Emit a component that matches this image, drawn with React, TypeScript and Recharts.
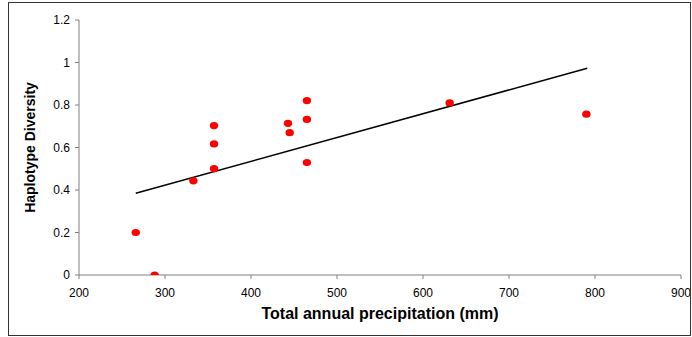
import React from 'react';
import { ScatterChart, Scatter, XAxis, YAxis, Label } from 'recharts';

const precipitation = [266, 288, 333, 357, 357, 357, 443, 445, 465, 465, 465, 631, 790];
const haplotypeDiversity = [0.2, 0.0, 0.443, 0.703, 0.617, 0.501, 0.714, 0.67, 0.821, 0.732, 0.529, 0.81, 0.757];
const trendX = [266, 791];
const trendY = [0.385, 0.973];
const xTicks = [200, 300, 400, 500, 600, 700, 800, 900];
const yTicks = [0, 0.2, 0.4, 0.6, 0.8, 1, 1.2];

const points = precipitation.map((x, i) => ({ x, y: haplotypeDiversity[i] }));
const trend = trendX.map((x, i) => ({ x, y: trendY[i] }));

const Dot = (props: any) => {
  const { cx, cy } = props;
  if (cx == null || cy == null) return null;
  return <ellipse cx={cx} cy={cy} rx={4.2} ry={3.6} fill="#ff0000" />;
};

const NoDot = () => <g />;

const tickStyle = { fontFamily: 'Liberation Sans, Arial, sans-serif', fontSize: 12, fill: '#000' };

export default function App() {
  return (
    <div
      style={{
        position: 'absolute',
        left: 8,
        top: 2,
        width: 681,
        height: 332,
        border: '1px solid #333',
        background: '#fff',
      }}
    >
      <ScatterChart width={681} height={332} margin={{ top: 17, right: 9, left: 0, bottom: 0 }}>
        <XAxis
          type="number"
          dataKey="x"
          domain={[200, 900]}
          ticks={xTicks}
          interval={0}
          allowDataOverflow
          height={60}
          tickSize={4}
          tickMargin={9}
          stroke="#808080"
          tick={tickStyle}
        >
          <Label
            value="Total annual precipitation (mm)"
            position="insideBottom"
            offset={16}
            style={{ fontFamily: 'Liberation Sans, Arial, sans-serif', fontSize: 16, fontWeight: 'bold', fill: '#000' }}
          />
        </XAxis>
        <YAxis
          type="number"
          dataKey="y"
          domain={[0, 1.2]}
          ticks={yTicks}
          interval={0}
          allowDataOverflow
          width={70}
          tickSize={4}
          tickMargin={5}
          stroke="#808080"
          tick={tickStyle}
        >
          <Label
            value="Haplotype Diversity"
            angle={-90}
            position="insideLeft"
            offset={21}
            style={{ fontFamily: 'Liberation Sans, Arial, sans-serif', fontSize: 14, fontWeight: 'bold', fill: '#000', textAnchor: 'middle' }}
          />
        </YAxis>
        <Scatter
          data={trend}
          line={{ stroke: '#000', strokeWidth: 1.5 }}
          shape={NoDot}
          isAnimationActive={false}
        />
        <Scatter data={points} shape={Dot} isAnimationActive={false} />
      </ScatterChart>
    </div>
  );
}
